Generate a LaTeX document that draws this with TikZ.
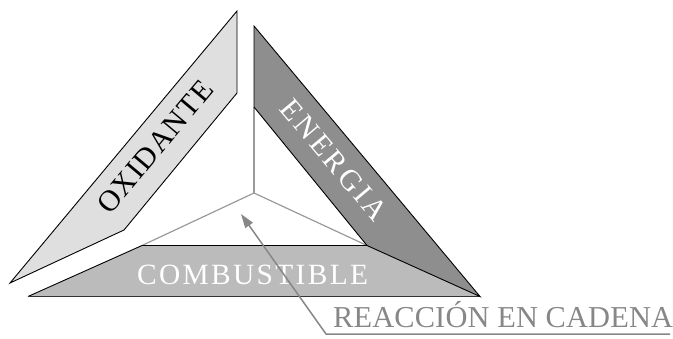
\documentclass[tikz,border=0pt]{standalone}
\usepackage{fontspec}
\setmainfont{Liberation Serif}
\usetikzlibrary{arrows.meta}
\definecolor{oxfill}{HTML}{DFDFDF}
\definecolor{enfill}{HTML}{8E8E8E}
\definecolor{cofill}{HTML}{BBBBBB}
\definecolor{inner}{HTML}{9A9A9A}
\definecolor{chain}{HTML}{878787}
\begin{document}
\begin{tikzpicture}[x=1bp,y=1bp,
  band/.style={draw=black,line width=0.9bp,line join=miter},
  innerline/.style={draw=inner,line width=1.2bp},
  lbl/.style={inner sep=0pt},
  chainline/.style={draw=chain,line width=1.5bp}]
\useasboundingbox (0,0) rectangle (673,338);
% corner coordinates
\coordinate (O1) at (237,327);
\coordinate (O2) at (237,245);
\coordinate (O3) at (124,108);
\coordinate (O4) at (10,55);
\coordinate (E1) at (254,312);
\coordinate (E2) at (254,231);
\coordinate (E3) at (367,92.5);
\coordinate (E4) at (480,41.5);
\coordinate (C1) at (142,92.5);
\coordinate (C4) at (28,41.5);
\coordinate (M) at (254,145);
\coordinate (tip) at (241,124);
\coordinate (bend) at (326,4);
\coordinate (tail) at (670,4);
% inner lines
\draw[innerline] (E2) -- (M);
\draw[innerline] (M) -- (C1);
\draw[innerline] (M) -- (E3);
% combustible
\fill[cofill] (C1) -- (E3) -- (E4) -- (C4) -- cycle;
\draw[band] (C4) -- (C1) -- (E3);
\draw[draw=black!80,line width=1.8bp] (C4) -- (E4);
% oxidante
\filldraw[band,fill=oxfill] (O1) -- (O2) -- (O3) -- (O4) -- cycle;
% energia
\filldraw[band,fill=enfill] (E1) -- (E2) -- (E3) -- (E4) -- cycle;
% labels
\node[lbl,anchor=center,rotate=50,font=\addfontfeature{LetterSpace=4}\fontsize{30}{30}\selectfont] (ox) at (155,191) {OXIDANTE};
\node[lbl,anchor=center,rotate=-50,text=white,font=\addfontfeature{LetterSpace=10}\fontsize{30}{30}\selectfont] (en) at (334,178) {ENERGIA};
\node[lbl,anchor=base west,text=white,font=\addfontfeature{LetterSpace=8}\fontsize{29.5}{30}\selectfont] (co) at (137,54) {COMBUSTIBLE};
\node[lbl,anchor=base west,text=chain,font=\addfontfeature{LetterSpace=0.5}\fontsize{30.5}{31}\selectfont] (re) at (333,11) {REACCIÓN EN CADENA};
% chain reaction pointer
\draw[chainline,-{Triangle[length=14bp,width=9bp]}] (tail) -- (bend) -- (tip);
\end{tikzpicture}
\end{document}
